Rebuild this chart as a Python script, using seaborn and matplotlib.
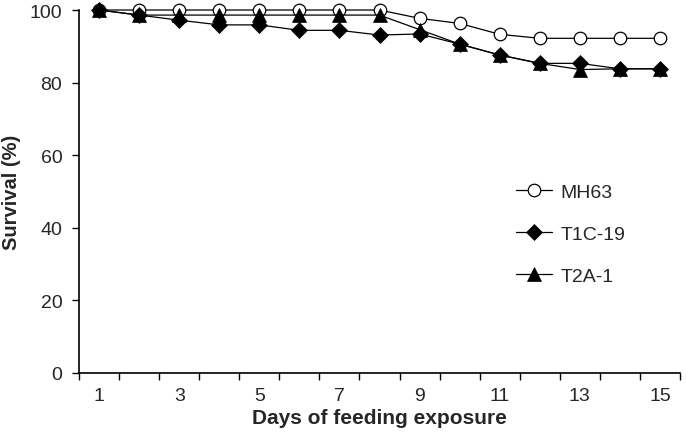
import matplotlib
matplotlib.use("Agg")
import matplotlib.pyplot as plt
import seaborn as sns
import pandas as pd
import numpy as np

days = list(range(1, 16))
mh63 = [100, 100, 100, 100, 100, 100, 100, 100, 97.7, 96.3, 93.3, 92.2, 92.2, 92.2, 92.2]
t1c19 = [100, 98.6, 97.2, 95.9, 95.9, 94.4, 94.4, 93.1, 93.4, 90.6, 87.6, 85.3, 85.3, 83.8, 83.8]
t2a1 = [100, 98.6, 98.6, 98.6, 98.6, 98.6, 98.6, 98.6, 94.6, 90.6, 87.6, 85.3, 83.6, 83.8, 83.8]
series_names = ["MH63", "T1C-19", "T2A-1"]
x_tick_labels = ["1", "3", "5", "7", "9", "11", "13", "15"]

sns.set_theme(style="white")
plt.rcParams['font.family'] = ['Liberation Sans', 'DejaVu Sans']

fig = plt.figure(figsize=(6.86, 4.39), dpi=100)
ax = fig.add_axes([79/686, 1-374/439, (680-79)/686, (374-11)/439])

df = pd.DataFrame({"day": days, "MH63": mh63, "T1C-19": t1c19, "T2A-1": t2a1})

styles = {
    "MH63": dict(marker="o", markersize=9, markerfacecolor="white", markeredgecolor="black", markeredgewidth=0.9),
    "T1C-19": dict(marker="D", markersize=8, markerfacecolor="black", markeredgecolor="black", markeredgewidth=0.5),
    "T2A-1": dict(marker="^", markersize=9.5, markerfacecolor="black", markeredgecolor="black", markeredgewidth=0.5),
}
for i, name in enumerate(series_names):
    sns.lineplot(data=df, x="day", y=name, ax=ax, color="black", linewidth=0.9,
                 label=name, clip_on=False, zorder=3 + i, **styles[name])

ax.set_xlim(0.5, 15.5)
ax.set_ylim(0, 100)
ax.set_xticks(np.arange(0.5, 16, 1))
ax.set_xticklabels([])
ax.set_xticks([int(t) for t in x_tick_labels], minor=True)
ax.set_xticklabels(x_tick_labels, minor=True)
ax.tick_params(axis="x", which="major", direction="out", length=5, width=1, color="black", bottom=True)
ax.tick_params(axis="x", which="minor", length=0, labelsize=14, pad=10, bottom=True)
ax.set_yticks([0, 20, 40, 60, 80, 100])
ax.tick_params(axis="y", direction="out", length=5, width=1, color="black", labelsize=14, pad=7, left=True)

for s in ["top", "right"]:
    ax.spines[s].set_visible(False)
for s in ["left", "bottom"]:
    ax.spines[s].set_color("black")
    ax.spines[s].set_linewidth(1.2)

ax.set_xlabel("Days of feeding exposure", fontsize=15, fontweight="bold", labelpad=3)
ax.set_ylabel("Survival (%)", fontsize=14.5, fontweight="bold", labelpad=6)

leg = ax.legend(loc="center left", bbox_to_anchor=(498/686, 1 - 235/439), bbox_transform=fig.transFigure,
                frameon=False, fontsize=14, handlelength=1.9, labelspacing=1.25, handletextpad=0.4)

fig.savefig("out.png", dpi=100)
